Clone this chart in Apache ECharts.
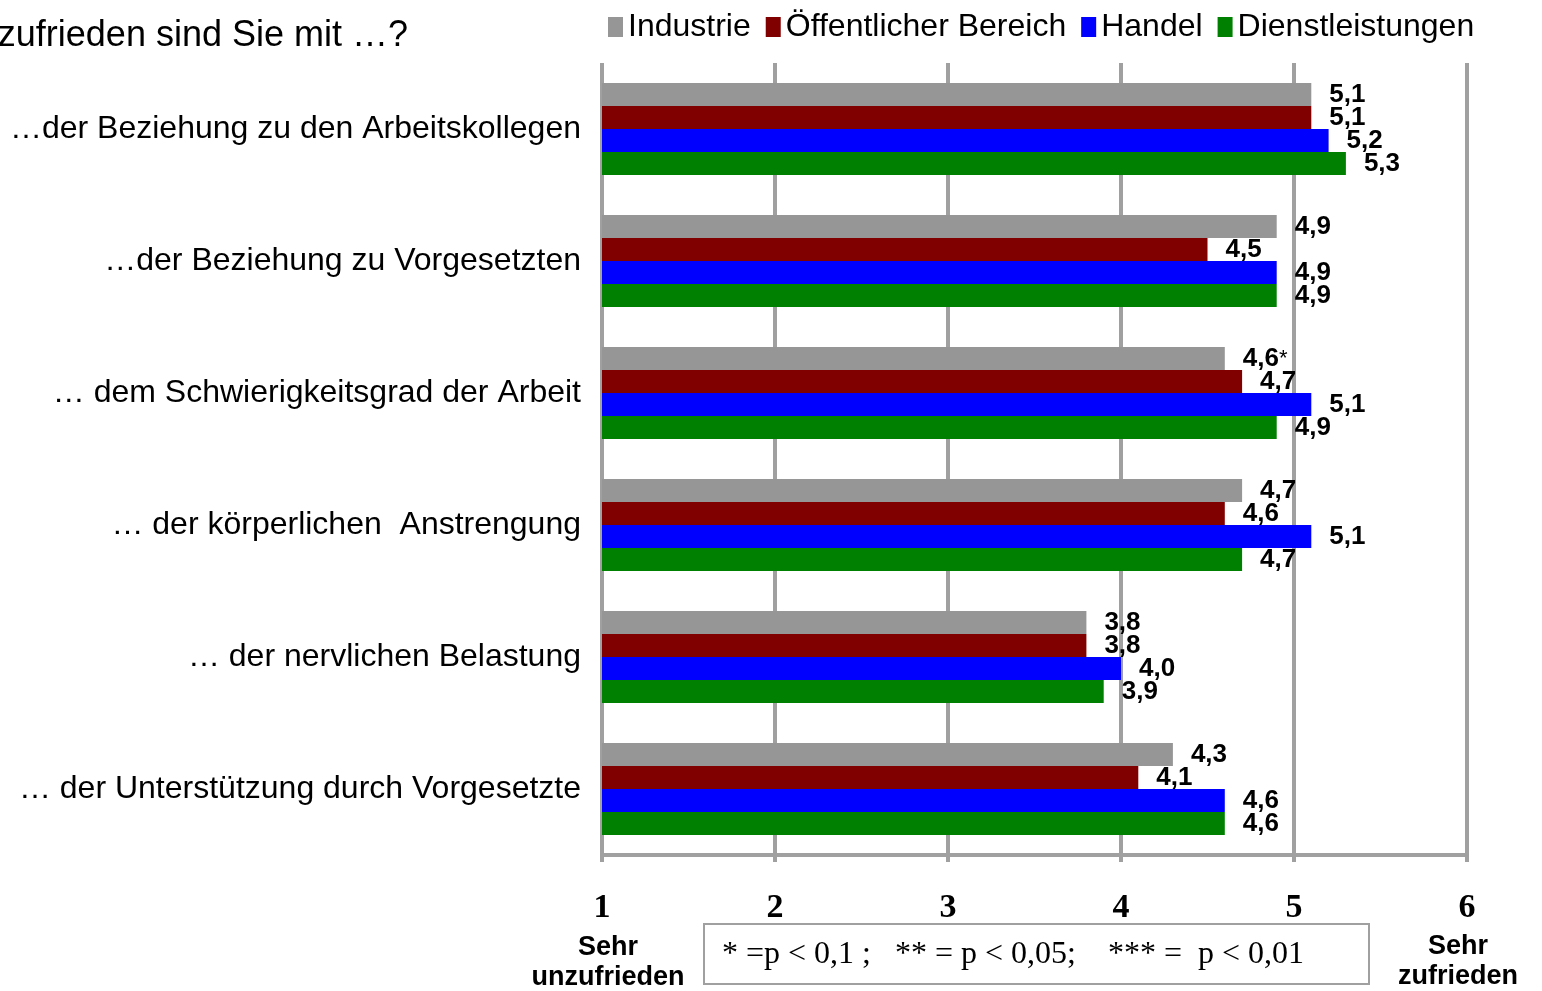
<!DOCTYPE html>
<html><head><meta charset="utf-8">
<script src="https://cdn.jsdelivr.net/npm/echarts@6/dist/echarts.min.js"></script>
<style>html,body{margin:0;padding:0;background:#fff;}#c{width:1542px;height:991px;}</style>
</head><body><div id="c"></div>
<script>
const categories = ['…der Beziehung zu den Arbeitskollegen', '…der Beziehung zu Vorgesetzten', '… dem Schwierigkeitsgrad der Arbeit', '… der körperlichen  Anstrengung', '… der nervlichen Belastung', '… der Unterstützung durch Vorgesetzte'];
const seriesNames = ['Industrie', 'Öffentlicher Bereich', 'Handel', 'Dienstleistungen'];
const industrie = [5.1, 4.9, 4.6, 4.7, 3.8, 4.3];
const oeffentlich = [5.1, 4.5, 4.7, 4.6, 3.8, 4.1];
const handel = [5.2, 4.9, 5.1, 5.1, 4.0, 4.6];
const dienst = [5.3, 4.9, 4.9, 4.7, 3.9, 4.6];
const industrieSig = ['', '', '*', '', '', ''];
const xTicks = ['1', '2', '3', '4', '5', '6'];
const colors = ['#969696', '#800000', '#0000ff', '#008000'];

const chart = echarts.init(document.getElementById('c'));
const vals = [industrie, oeffentlich, handel, dienst];
const sigs = [industrieSig, null, null, null];
const series = vals.map((v, i) => ({
  name: seriesNames[i],
  type: 'bar',
  data: v,
  barWidth: 23,
  barGap: '0%',
  itemStyle: { color: colors[i] },
  label: {
    show: true,
    position: 'right',
    distance: 18,
    formatter: p => {
      const s = p.value.toFixed(1).replace('.', ',');
      const m = sigs[i] ? sigs[i][p.dataIndex] : '';
      return m ? s + '{s|' + m + '}' : s;
    },
    fontFamily: 'Liberation Sans',
    fontWeight: 'bold',
    fontSize: 26,
    color: '#000',
    rich: { s: { fontSize: 22, fontWeight: 'normal', color: '#000', fontFamily: 'Liberation Sans' } }
  }
}));

chart.setOption({
  animation: false,
  color: colors,
  grid: { left: 602, right: 75, top: 63, bottom: 136 },
  legend: {
    left: 603, top: 6,
    icon: 'rect', itemWidth: 15, itemHeight: 20, itemGap: 15,
    textStyle: { fontFamily: 'Liberation Sans', fontSize: 32, color: '#000', padding: [0, 0, 0, 0] },
    data: seriesNames
  },
  xAxis: {
    type: 'value', min: 1, max: 6, interval: 1,
    axisLine: { show: true, lineStyle: { color: '#a0a0a0', width: 4 } },
    axisTick: { show: true, length: 7, lineStyle: { color: '#a0a0a0', width: 4 } },
    splitLine: { show: true, lineStyle: { color: '#a0a0a0', width: 4 } },
    axisLabel: {
      margin: 36,
      formatter: (v) => xTicks[Math.round(v) - 1],
      fontFamily: 'Liberation Serif', fontWeight: 'bold', fontSize: 34, color: '#000'
    }
  },
  yAxis: {
    type: 'category', inverse: true, data: categories,
    axisLine: { show: false }, axisTick: { show: false },
    axisLabel: { margin: 21, fontFamily: 'Liberation Sans', fontSize: 32, color: '#000' }
  },
  graphic: [
    { type: 'text', x: 408, y: 18, style: { text: 'Wie zufrieden sind Sie mit …?', font: '36px "Liberation Sans"', fill: '#000', textAlign: 'right' } },
    { type: 'text', x: 608, y: 933, style: { text: 'Sehr\nunzufrieden', font: 'bold 27px "Liberation Sans"', fill: '#000', textAlign: 'center', lineHeight: 30 } },
    { type: 'text', x: 1458, y: 932, style: { text: 'Sehr\nzufrieden', font: 'bold 27px "Liberation Sans"', fill: '#000', textAlign: 'center', lineHeight: 30 } },
    { type: 'rect', shape: { x: 704, y: 924, width: 665, height: 60 }, style: { fill: '#fff', stroke: '#a0a0a0', lineWidth: 2 } },
    { type: 'text', x: 722, y: 939, style: { text: '* =p < 0,1 ;   ** = p < 0,05;    *** =  p < 0,01', font: '32px "Liberation Serif"', fill: '#000' } }
  ],
  series: series
});
</script>
</body></html>
